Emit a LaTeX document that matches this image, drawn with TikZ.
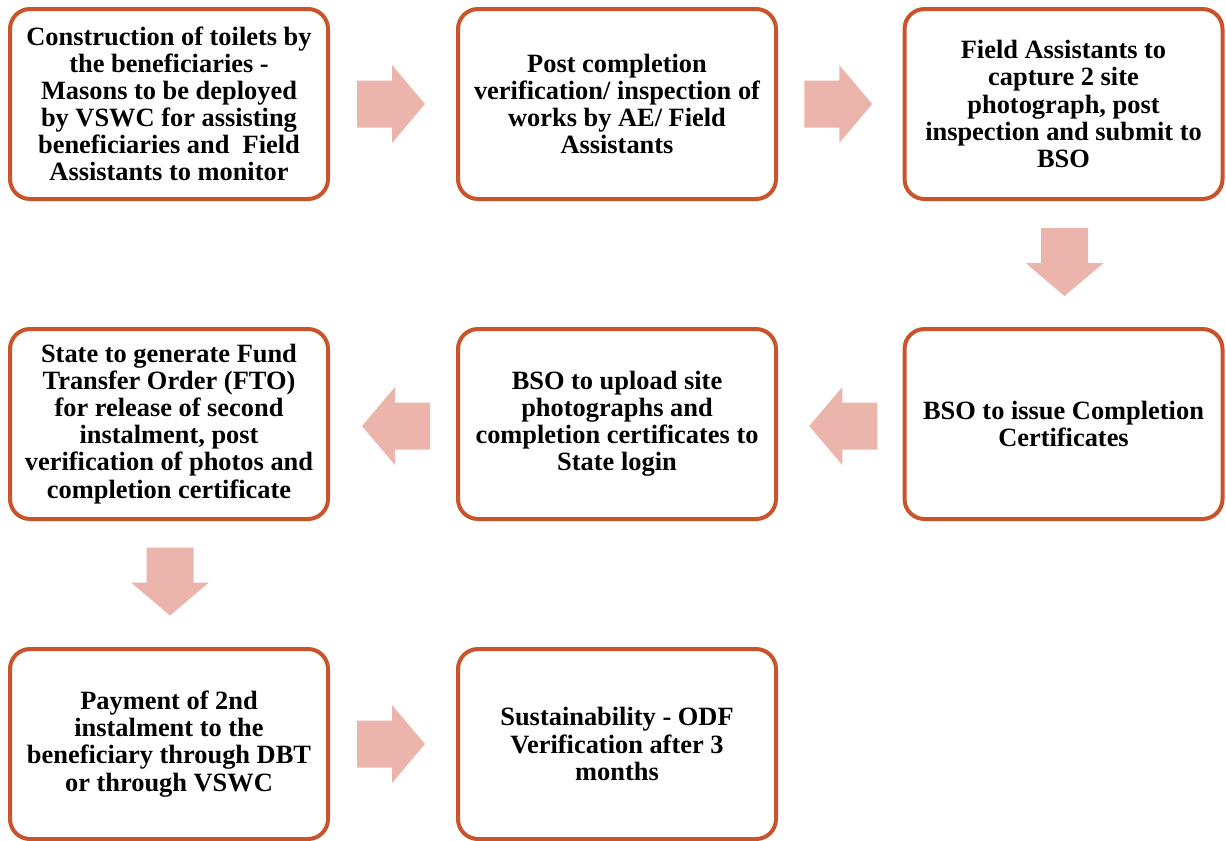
\documentclass[tikz,border=0pt]{standalone}
\usepackage{fontspec}
\setmainfont{Liberation Serif}
\usetikzlibrary{calc}
\definecolor{boxline}{HTML}{C9532A}
\definecolor{arrowfill}{HTML}{EBB5AC}
\tikzset{
  stage/.style={draw=boxline, line width=3pt, rounded corners=15pt,
    minimum width=238.5pt, minimum height=142.5pt, inner sep=0pt,
    align=center,
    font=\fontsize{19.8}{20.3}\selectfont\bfseries},
  pics/blockarrow/.style={code={
    \fill[arrowfill] (-34,-23.5) -- (1,-23.5) -- (1,-39) -- (34,0)
      -- (1,39) -- (1,23.5) -- (-34,23.5) -- cycle;}}
}
\begin{document}
\begin{tikzpicture}[x=0.75pt, y=-0.75pt]
\useasboundingbox (0,0) rectangle (1226,840);
% first row
\node[stage] (b1) at (169,104) {Construction of toilets by\\the beneficiaries -\\Masons to be deployed\\by VSWC for assisting\\beneficiaries and~ Field\\Assistants to monitor};
\node[stage] (b2) at (617,104) {Post completion\\verification/ inspection of\\works by AE/ Field\\Assistants};
\node[stage] (b3) at (1063.5,104) {Field Assistants to\\capture 2 site\\photograph, post\\inspection and submit to\\BSO};
% second row
\node[stage] (b4) at (1063.5,424) {BSO to issue Completion\\Certificates};
\node[stage] (b5) at (617,424) {BSO to upload site\\photographs and\\completion certificates to\\State login};
\node[stage] (b6) at (169,424) {State to generate Fund\\Transfer Order (FTO)\\for release of second\\instalment, post\\verification of photos and\\completion certificate};
% third row
\node[stage] (b7) at (169,744) {Payment of 2nd\\instalment to the\\beneficiary through DBT\\or through VSWC};
\node[stage] (b8) at (617,744) {Sustainability - ODF\\Verification after 3\\months};
% block arrows between stages
\pic at ($(b1.east)!0.5!(b2.west)+(-2,0)$) {blockarrow};
\pic at ($(b2.east)!0.5!(b3.west)+(-2,0)$) {blockarrow};
\pic[rotate=-90] at ($(b3.south)!0.5!(b4.north)+(1,-2)$) {blockarrow};
\pic[rotate=180] at ($(b4.west)!0.5!(b5.east)+(3,2)$) {blockarrow};
\pic[rotate=180] at ($(b5.west)!0.5!(b6.east)+(3,2)$) {blockarrow};
\pic[rotate=-90] at ($(b6.south)!0.5!(b7.north)+(1,-2.5)$) {blockarrow};
\pic at ($(b7.east)!0.5!(b8.west)+(-2,0)$) {blockarrow};
\end{tikzpicture}
\end{document}
